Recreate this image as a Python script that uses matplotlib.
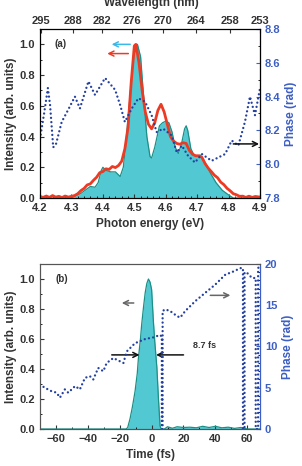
import matplotlib
matplotlib.use("Agg")
import matplotlib.pyplot as plt
from matplotlib.ticker import MultipleLocator
import numpy as np

plt.rcParams['font.family'] = ['Liberation Sans', 'DejaVu Sans']
plt.rcParams['font.weight'] = 'bold'
plt.rcParams['axes.labelweight'] = 'bold'

# ---- panel (a): spectrum vs photon energy ----
spec_e = [4.20, 4.30, 4.31, 4.33, 4.35, 4.36, 4.375, 4.385, 4.395, 4.40, 4.41, 4.425,
          4.44, 4.455, 4.465, 4.475, 4.49, 4.50, 4.51, 4.52, 4.53, 4.54, 4.55, 4.555,
          4.565, 4.58, 4.59, 4.60, 4.61, 4.62, 4.63, 4.64, 4.65, 4.66, 4.665, 4.67,
          4.68, 4.69, 4.70, 4.71, 4.72, 4.74, 4.76, 4.78, 4.80, 4.815, 4.90]
spec_i = [0.0, 0.0, 0.01, 0.03, 0.06, 0.075, 0.07, 0.10, 0.18, 0.20, 0.18, 0.17,
          0.17, 0.14, 0.20, 0.40, 0.75, 0.93, 1.00, 0.92, 0.65, 0.40, 0.27, 0.26,
          0.33, 0.47, 0.49, 0.50, 0.49, 0.43, 0.33, 0.29, 0.35, 0.45, 0.47, 0.44,
          0.32, 0.28, 0.27, 0.28, 0.25, 0.17, 0.10, 0.05, 0.02, 0.0, 0.0]

meas_e = [4.200, 4.210, 4.220, 4.230, 4.240, 4.250, 4.260, 4.270, 4.280, 4.290,
          4.300, 4.310, 4.320, 4.330, 4.340, 4.350, 4.360, 4.370, 4.380, 4.390,
          4.400, 4.410, 4.420, 4.430, 4.440, 4.450, 4.460, 4.470, 4.480, 4.490,
          4.500, 4.505, 4.515, 4.525, 4.535, 4.545, 4.555, 4.565, 4.575, 4.585,
          4.595, 4.605, 4.615, 4.625, 4.635, 4.645, 4.655, 4.665, 4.675, 4.685,
          4.695, 4.705, 4.715, 4.725, 4.735, 4.745, 4.755, 4.765, 4.775, 4.785,
          4.795, 4.805, 4.815, 4.825, 4.835, 4.845, 4.855, 4.865, 4.875, 4.885, 4.900]
meas_i = [0.010, 0.004, 0.013, 0.004, 0.016, 0.006, 0.011, 0.003, 0.013, 0.006,
          0.011, 0.016, 0.028, 0.048, 0.062, 0.085, 0.092, 0.115, 0.135, 0.165,
          0.172, 0.190, 0.186, 0.205, 0.198, 0.212, 0.240, 0.320, 0.460, 0.750,
          0.990, 1.000, 0.880, 0.700, 0.560, 0.480, 0.450, 0.490, 0.570, 0.610,
          0.560, 0.480, 0.400, 0.370, 0.355, 0.350, 0.360, 0.355, 0.310, 0.285,
          0.275, 0.275, 0.265, 0.225, 0.195, 0.172, 0.148, 0.132, 0.103, 0.087,
          0.063, 0.047, 0.028, 0.021, 0.011, 0.012, 0.004, 0.012, 0.004, 0.010, 0.006]

phase_e = [4.200, 4.213, 4.225, 4.232, 4.242, 4.251, 4.269, 4.289, 4.311, 4.327,
           4.354, 4.375, 4.407, 4.439, 4.455, 4.470, 4.492, 4.513, 4.534, 4.555,
           4.571, 4.592, 4.619, 4.635, 4.651, 4.671, 4.693, 4.715, 4.746, 4.789,
           4.810, 4.831, 4.852, 4.868, 4.884, 4.900]
phase_a = [8.15, 8.30, 8.45, 8.35, 8.10, 8.12, 8.25, 8.32, 8.40, 8.33,
           8.49, 8.41, 8.51, 8.44, 8.35, 8.25, 8.33, 8.39, 8.37, 8.29,
           8.19, 8.21, 8.17, 8.07, 8.11, 8.05, 8.01, 8.06, 8.02, 8.06,
           8.14, 8.11, 8.25, 8.40, 8.29, 8.45]

wl_ticks = [295, 288, 282, 276, 270, 264, 258, 253]

# ---- panel (b): temporal profile ----
pulse_t = [-70, -16, -15, -13.5, -12, -10.4, -9, -8.3, -7, -6.2, -5, -4, -3, -2, -1,
           0, 1.1, 2, 3.3, 4.3, 5.3, 6, 8, 10, 13, 16, 20, 24, 28, 32, 36, 40, 44,
           48, 52, 56, 60, 68]
pulse_i = [0, 0, 0.01, 0.07, 0.15, 0.25, 0.37, 0.47, 0.60, 0.70, 0.82, 0.91, 0.97,
           1.0, 0.98, 0.93, 0.72, 0.58, 0.41, 0.20, 0.02, 0, 0, 0.015, 0.005, 0.015,
           0.01, 0.012, 0.008, 0.018, 0.01, 0.018, 0.008, 0.012, 0.004, 0.01, 0, 0]

phase_t = [-70, -67, -63, -59.6, -57.5, -54.4, -52.3, -48, -45, -41.8, -38.7, -36.6,
           -33.5, -30.3, -28.2, -24, -19.8, -17.7, -15.6, -10.4, -4.1, 1, 5.3, 6.4,
           6.4, 6.9, 6.9, 8.5, 11.6, 15.8, 17.9, 21.1, 27.4, 33.6, 39.9, 46.2, 51.4,
           55.7, 57.3, 57.3, 58.3, 58.3, 60, 63, 65.3, 65.3, 66.8, 66.8, 68]
phase_b = [5.4, 5.0, 4.6, 4.4, 3.8, 4.8, 4.4, 5.2, 4.8, 6.2, 6.4, 6.0,
           7.4, 7.0, 8.0, 8.6, 8.2, 8.0, 9.4, 10.4, 10.9, 11.1, 11.4, 11.2,
           0, 0, 14.3, 14.5, 14.3, 13.7, 13.5, 14.3, 15.5, 16.5, 17.5, 18.7, 19.1,
           19.5, 19.5, 0, 0, 19.0, 18.9, 18.3, 18.3, 0, 0, 19.5, 19.8]

fill_c = '#52c8d2'
edge_c = '#1c8f86'
red_c = '#ec3b24'
dot_c = '#2440a0'
blue_c = '#3d5fc4'
text_c = '#333333'
dots = (0, (0.01, 1.8))

fig = plt.figure(figsize=(3.02, 4.66), dpi=100)


def arrow(axis, tip, tail, color):
    axis.annotate('', xy=tip, xytext=tail,
                  arrowprops=dict(arrowstyle='->', color=color, lw=1.1,
                                  mutation_scale=9, shrinkA=0, shrinkB=0))


def style_axes(ax, ax2):
    for a in (ax, ax2):
        a.tick_params(which='both', direction='in', labelsize=8)
        a.tick_params(which='major', length=3, width=0.8)
        a.tick_params(which='minor', length=1.5, width=0.6)
    ax.tick_params(colors=text_c, labelcolor=text_c)
    ax2.tick_params(axis='y', colors=blue_c, labelcolor=blue_c)
    ax2.spines['right'].set_color(blue_c)
    for s in ('left', 'bottom', 'top'):
        ax.spines[s].set_color('#555555')
        ax2.spines[s].set_color('#555555')
    ax.set_ylabel('Intensity (arb. units)', fontsize=8.5, color=text_c, labelpad=2)
    ax2.set_ylabel('Phase (rad)', fontsize=8.5, color=blue_c, labelpad=3)


# panel (a)
ax = fig.add_axes([0.1325, 0.5751, 0.7285, 0.3627])
ax.fill_between(spec_e, spec_i, color=fill_c, lw=0)
ax.plot(spec_e, spec_i, color=edge_c, lw=0.9)
ax.plot(meas_e, meas_i, color=red_c, lw=2.0)
ax.set_xlim(4.2, 4.9)
ax.set_ylim(0, 1.1)
ax.xaxis.set_major_locator(MultipleLocator(0.1))
ax.xaxis.set_minor_locator(MultipleLocator(0.02))
ax.yaxis.set_major_locator(MultipleLocator(0.2))
ax.yaxis.set_minor_locator(MultipleLocator(0.1))
ax.yaxis.set_major_formatter('{x:.1f}')
ax.set_xlabel('Photon energy (eV)', fontsize=8.5, color=text_c, labelpad=4)
ax.text(4.245, 1.0, '(a)', fontsize=7, color=text_c, va='center')
arrow(ax, (4.428, 1.0), (4.487, 1.0), '#3ab8e8')
arrow(ax, (4.414, 0.94), (4.481, 0.94), red_c)

ax2 = ax.twinx()
ax2.plot(phase_e, phase_a, color=dot_c, lw=1.7, linestyle=dots, dash_capstyle='round')
ax2.set_ylim(7.8, 8.8)
ax2.yaxis.set_major_locator(MultipleLocator(0.2))
ax2.yaxis.set_minor_locator(MultipleLocator(0.1))
arrow(ax2, (4.897, 8.12), (4.815, 8.12), '#111111')
style_axes(ax, ax2)

axt = ax.twiny()
axt.set_xlim(4.2, 4.9)
axt.set_xticks([1239.84 / w for w in wl_ticks])
axt.set_xticklabels([str(w) for w in wl_ticks])
axt.tick_params(direction='in', length=3, width=0.8, labelsize=8, colors=text_c, pad=2)
fig.text(0.5, 0.994, 'Wavelength (nm)', ha='center', va='center', fontsize=8.5,
         color=text_c)

# panel (b)
bx = fig.add_axes([0.1325, 0.0794, 0.7285, 0.3541])
bx.fill_between(pulse_t, pulse_i, color=fill_c, lw=0)
bx.plot(pulse_t, pulse_i, color=edge_c, lw=0.9)
bx.set_xlim(-70, 68)
bx.set_ylim(0, 1.1)
bx.xaxis.set_major_locator(MultipleLocator(20))
bx.xaxis.set_minor_locator(MultipleLocator(10))
bx.yaxis.set_major_locator(MultipleLocator(0.2))
bx.yaxis.set_minor_locator(MultipleLocator(0.1))
bx.yaxis.set_major_formatter('{x:.1f}')
bx.set_xlabel('Time (fs)', fontsize=8.5, color=text_c, labelpad=4)
bx.text(-60.5, 1.0, '(b)', fontsize=7, color=text_c, va='center')
arrow(bx, (-18.7, 0.84), (-11.2, 0.84), '#666666')
arrow(bx, (-7.6, 0.494), (-25, 0.494), '#111111')
arrow(bx, (2.8, 0.494), (20, 0.494), '#111111')
bx.text(26, 0.555, '8.7 fs', fontsize=6.5, color=text_c, va='center')

bx2 = bx.twinx()
bx2.plot(phase_t, phase_b, color=dot_c, lw=1.7, linestyle=dots, dash_capstyle='round')
bx2.set_ylim(0, 20)
bx2.yaxis.set_major_locator(MultipleLocator(5))
bx2.yaxis.set_minor_locator(MultipleLocator(1))
arrow(bx2, (49.4, 16.2), (36.8, 16.2), '#666666')
style_axes(bx, bx2)

fig.savefig('out.png', dpi=100)
